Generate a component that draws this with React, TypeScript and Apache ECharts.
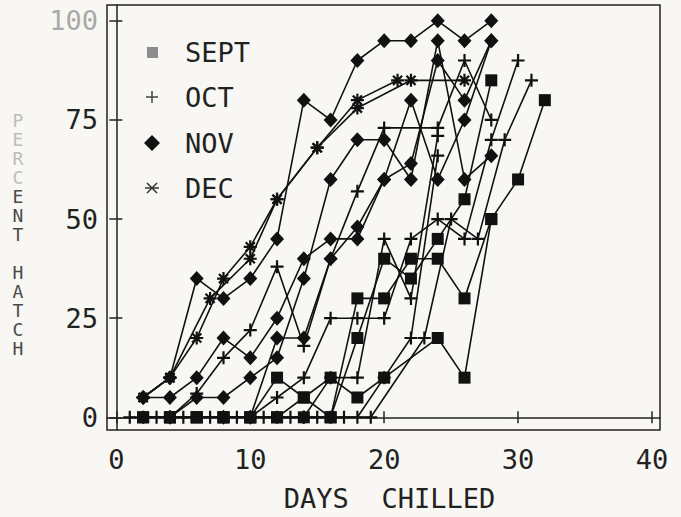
import React, { useEffect, useRef } from "react";
import * as echarts from "echarts";

// ---- data (days chilled, percent hatch) ----
const SEPT_1 = [[2,0],[4,0],[6,0],[8,0],[10,0],[12,10],[14,5],[16,10],[18,5],[20,10],[24,20],[26,10],[28,50],[30,60],[32,80]];
const SEPT_2 = [[2,0],[4,0],[6,0],[8,0],[10,0],[12,0],[14,0],[16,0],[18,30],[20,30],[22,40],[24,40],[26,30],[28,50]];
const SEPT_3 = [[4,0],[6,0],[8,0],[10,0],[12,0],[14,5],[16,0],[18,20],[20,40],[22,35],[24,45],[26,55],[28,85]];

const OCT_1 = [[1,0],[3,0],[5,0],[7,0],[9,0],[11,0],[13,0],[15,0],[17,0],[19,0],[23,20],[25,50],[27,45],[29,70],[31,85]];
const OCT_2 = [[2,0],[4,0],[6,6],[8,15],[10,22],[12,38],[14,18],[16,40],[18,57],[20,73],[24,73],[26,90],[28,75]];
const OCT_3 = [[10,0],[12,5],[14,10],[16,25],[18,25],[20,25],[22,45],[24,50],[26,45],[28,70],[30,90]];
const OCT_4 = [[12,0],[14,0],[16,10],[18,10],[20,45],[22,30],[24,71]];
const OCT_5 = [[14,0],[16,0],[18,0],[20,10],[22,20],[24,66]];

const NOV_1 = [[2,5],[4,10],[6,35],[8,30],[10,35],[12,45],[14,80],[16,75],[18,90],[20,95],[22,95],[24,100],[26,95],[28,100]];
const NOV_2 = [[2,5],[4,5],[6,10],[8,20],[10,15],[12,25],[14,40],[16,45],[18,45],[20,60],[22,80],[24,60],[26,75],[28,95]];
const NOV_3 = [[4,0],[6,5],[8,5],[10,10],[12,15],[14,35],[16,60],[18,70],[20,70],[22,60],[24,95],[26,60],[28,66]];
const NOV_4 = [[8,0],[10,0],[12,20],[14,20],[16,40],[18,48],[20,60],[22,64],[24,90],[26,80],[28,95]];

const DEC_1 = [[2,5],[4,10],[6,20],[8,35],[10,43],[12,55],[15,68],[18,80],[21,85]];
const DEC_2 = [[2,5],[4,10],[7,30],[10,40],[12,55],[15,68],[18,78],[22,85],[26,85]];

const X_TICKS = [0, 10, 20, 30, 40];
const Y_TICKS = [0, 25, 50, 75, 100];
const LEGEND_NAMES = ["SEPT", "OCT", "NOV", "DEC"];
const X_TITLE = "DAYS  CHILLED";
const Y_TITLE = "PERCENT HATCH";

const PLUS = "path://M0,5L10,5M5,0L5,10";
const ASTER = "path://M0,5L10,5M5,0L5,10M1.5,1.5L8.5,8.5M8.5,1.5L1.5,8.5";

const INK = "#111";
const MONO_NAME = "DejaVu Sans Mono";
const MONO = '"DejaVu Sans Mono"';

function mk(name: string, data: number[][], symbol: string, size: any, stroked: boolean) {
  return {
    type: "line",
    name,
    data,
    symbol,
    symbolSize: size,
    showAllSymbol: true,
    silent: true,
    lineStyle: { color: INK, width: 1.6 },
    itemStyle: {
      color: INK,
      borderColor: INK,
      borderWidth: stroked ? 2.2 : 0,
      opacity: 1,
    },
    emphasis: { disabled: true },
  };
}

export default function App() {
  const ref = useRef<HTMLDivElement>(null);
  useEffect(() => {
    if (!ref.current) return;
    const chart = echarts.init(ref.current, null, { renderer: "svg" });
    const series: any[] = [
      mk("SEPT", SEPT_1, "rect", 12, false),
      mk("SEPT", SEPT_2, "rect", 12, false),
      mk("SEPT", SEPT_3, "rect", 12, false),
      mk("OCT", OCT_1, PLUS, 13, true),
      mk("OCT", OCT_2, PLUS, 13, true),
      mk("OCT", OCT_3, PLUS, 13, true),
      mk("OCT", OCT_4, PLUS, 13, true),
      mk("OCT", OCT_5, PLUS, 13, true),
      mk("NOV", NOV_1, "diamond", [14, 15], false),
      mk("NOV", NOV_2, "diamond", [14, 15], false),
      mk("NOV", NOV_3, "diamond", [14, 15], false),
      mk("NOV", NOV_4, "diamond", [14, 15], false),
      mk("DEC", DEC_1, ASTER, 13, true),
      mk("DEC", DEC_2, ASTER, 13, true),
    ];

    const legendY = [52, 97, 143, 188];
    const g: any[] = [
      { type: "rect", shape: { x: 147, y: 47, width: 11, height: 11 }, style: { fill: "#8d8d8d" } },
      { type: "line", shape: { x1: 146, y1: legendY[1], x2: 158, y2: legendY[1] }, style: { stroke: "#444", lineWidth: 1.5 } },
      { type: "line", shape: { x1: 152, y1: legendY[1] - 6, x2: 152, y2: legendY[1] + 6 }, style: { stroke: "#444", lineWidth: 1.5 } },
      { type: "polygon", shape: { points: [[152, 135], [160, 143], [152, 151], [144, 143]] }, style: { fill: INK } },
      { type: "line", shape: { x1: 145, y1: 188, x2: 159, y2: 188 }, style: { stroke: "#333", lineWidth: 1.5 } },
      { type: "line", shape: { x1: 147, y1: 183, x2: 157, y2: 193 }, style: { stroke: "#333", lineWidth: 1.5 } },
      { type: "line", shape: { x1: 157, y1: 183, x2: 147, y2: 193 }, style: { stroke: "#333", lineWidth: 1.5 } },
    ];
    LEGEND_NAMES.forEach((n, i) => {
      g.push({
        type: "text",
        x: 185,
        y: legendY[i],
        style: {
          text: n,
          font: `27px ${MONO}`,
          fill: "#222",
          textAlign: "left",
          textVerticalAlign: "middle",
        },
      });
    });

    // vertical stacked y-axis title, one upright letter per row
    const letters = Y_TITLE.split("");
    letters.forEach((c, i) => {
      if (c === " ") return;
      g.push({
        type: "text",
        x: 18,
        y: 120 + i * 19,
        style: {
          text: c,
          font: `18px ${MONO}`,
          fill: i < 4 ? "#bdbdbd" : "#4a4a4a",
          textAlign: "center",
          textVerticalAlign: "middle",
        },
      });
    });

    const xBase = {
      type: "value",
      min: -0.7,
      max: 40.6,
      position: "bottom",
      splitLine: { show: false },
    };
    const yBase = {
      type: "value",
      min: -3.2,
      max: 104,
      position: "left",
      splitLine: { show: false },
    };

    chart.setOption({
      animation: false,
      backgroundColor: "#f8f7f3",
      grid: {
        left: 107,
        right: 21,
        top: 5,
        bottom: 81,
        show: true,
        borderColor: "#222",
        borderWidth: 1.5,
        backgroundColor: "transparent",
      },
      xAxis: [
        {
          ...xBase,
          name: X_TITLE,
          nameLocation: "middle",
          nameGap: 55,
          nameTextStyle: { fontSize: 27, fontFamily: MONO_NAME, color: "#222", padding: [0, 0, 0, 12] },
          axisLine: { show: true, lineStyle: { color: "#222", width: 1.5 } },
          axisTick: { show: true, inside: false, length: 6, customValues: X_TICKS, lineStyle: { color: "#222", width: 1.5 } },
          axisLabel: {
            show: true,
            customValues: X_TICKS,
            margin: 16,
            fontSize: 27,
            fontFamily: MONO_NAME,
            color: "#222",
          },
        },
        {
          ...xBase,
          axisLine: { show: false },
          axisTick: { show: true, inside: true, length: 6, customValues: X_TICKS, lineStyle: { color: "#222", width: 1.5 } },
          axisLabel: { show: false },
        },
      ],
      yAxis: [
        {
          ...yBase,
          axisLine: { show: true, lineStyle: { color: "#222", width: 1.5 } },
          axisTick: { show: true, inside: false, length: 7, customValues: Y_TICKS, lineStyle: { color: "#222", width: 1.5 } },
          axisLabel: {
            show: true,
            customValues: Y_TICKS,
            margin: 9,
            fontSize: 27,
            fontFamily: MONO_NAME,
            color: (v: any) => (Number(v) === 100 ? "#a8a8a8" : "#222"),
          },
        },
        {
          ...yBase,
          axisLine: { show: false },
          axisTick: { show: true, inside: true, length: 6, customValues: Y_TICKS, lineStyle: { color: "#222", width: 1.5 } },
          axisLabel: { show: false },
        },
      ],
      graphic: g,
      series,
    });
    return () => chart.dispose();
  }, []);
  return (
    <div
      ref={ref}
      style={{ position: "fixed", left: 0, top: 0, width: 681, height: 517, background: "#f8f7f3" }}
    />
  );
}
